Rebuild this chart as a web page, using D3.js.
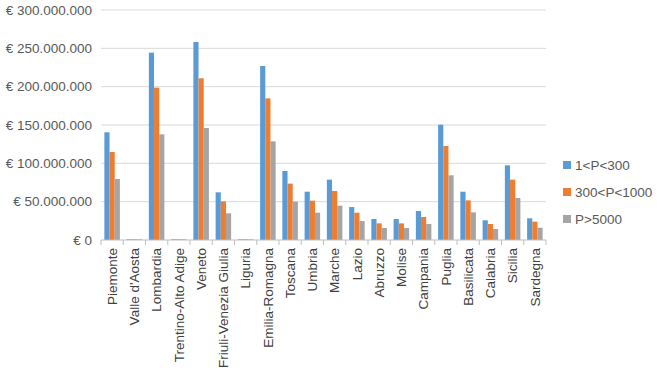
<!DOCTYPE html>
<html>
<head>
<meta charset="utf-8">
<script src="https://cdn.jsdelivr.net/npm/d3@7"></script>
<style>
  body { margin: 0; background: #fff; }
  svg { display: block; font-family: "Liberation Sans", "DejaVu Sans", sans-serif; }
</style>
</head>
<body>
<div id="chart-container"></div>
<script>
'use strict';

// regions along the x axis
const regions = ["Piemonte", "Valle d'Aosta", "Lombardia", "Trentino-Alto Adige", "Veneto",
    "Friuli-Venezia Giulia", "Liguria", "Emilia-Romagna", "Toscana", "Umbria", "Marche",
    "Lazio", "Abruzzo", "Molise", "Campania", "Puglia", "Basilicata", "Calabria", "Sicilia", "Sardegna"];

const seriesNames = ["1<P<300", "300<P<1000", "P>5000"];

// values in millions of euro
const small = [140.5, 1, 244.4, 1, 258.3, 62.2, 1, 227, 90, 63, 78.7, 43, 27.4, 27.4, 37.8, 150.4, 63, 25.7, 97.4, 28.3];
const medium = [114.8, 1, 198.7, 1, 210.9, 50.4, 1, 184.8, 73.5, 51.3, 63.9, 35.6, 21.7, 21.7, 30, 122.6, 51.7, 20.9, 78.7, 23.9];
const large = [79.6, 1, 137.8, 1, 146.1, 34.8, 1, 128.7, 50, 35.6, 44.8, 24.8, 15.7, 15.7, 20.9, 84.4, 36.1, 14.3, 54.8, 16];

const yTicks = [0, 50, 100, 150, 200, 250, 300];

const colors = ["#5B9BD5", "#ED7D31", "#A5A5A5"];
const allSeries = [small, medium, large];

const width = 657, height = 378;
const margin = { left: 101, right: 111, top: 10, bottom: 138 };

const svg = d3.select("#chart-container").append("svg")
    .attr("width", width)
    .attr("height", height);

const x = d3.scaleBand()
    .domain(regions)
    .range([margin.left, width - margin.right])
    .paddingInner(0)
    .paddingOuter(0);

const x1 = d3.scaleBand()
    .domain(d3.range(seriesNames.length))
    .range([0, x.bandwidth()])
    .paddingInner(0)
    .paddingOuter(0.65);

const y = d3.scaleLinear()
    .domain([0, 300])
    .range([height - margin.bottom, margin.top]);

// gridlines
svg.append("g")
    .selectAll("line")
    .data(yTicks.slice(1))
    .join("line")
    .attr("x1", margin.left)
    .attr("x2", width - margin.right)
    .attr("y1", d => y(d))
    .attr("y2", d => y(d))
    .attr("stroke", "#d9d9d9")
    .attr("stroke-width", 1);

// y labels
const fmt = v => v === 0 ? "€ 0" : "€ " + d3.format(",")(v * 1e6).replace(/,/g, ".");
svg.append("g")
    .selectAll("text")
    .data(yTicks)
    .join("text")
    .attr("x", margin.left - 9)
    .attr("y", d => y(d))
    .attr("dy", "0.35em")
    .attr("text-anchor", "end")
    .attr("fill", "#595959")
    .style("font-size", "13.5px")
    .text(fmt);

// bars
const groups = svg.append("g")
    .selectAll("g")
    .data(regions)
    .join("g")
    .attr("transform", d => `translate(${x(d)},0)`);

groups.selectAll("rect")
    .data((d, i) => allSeries.map((s, k) => ({ k, v: s[i] })))
    .join("rect")
    .attr("x", d => x1(d.k))
    .attr("width", x1.bandwidth())
    .attr("y", d => y(d.v))
    .attr("height", d => y(0) - y(d.v))
    .attr("fill", d => colors[d.k]);

// x axis line and ticks
const base = y(0);
svg.append("line")
    .attr("x1", margin.left)
    .attr("x2", width - margin.right)
    .attr("y1", base)
    .attr("y2", base)
    .attr("stroke", "#bfbfbf");

svg.append("g")
    .selectAll("line")
    .data(d3.range(regions.length + 1))
    .join("line")
    .attr("x1", i => i < regions.length ? x(regions[i]) : x.range()[1])
    .attr("x2", i => i < regions.length ? x(regions[i]) : x.range()[1])
    .attr("y1", base)
    .attr("y2", base + 5)
    .attr("stroke", "#bfbfbf");

// x labels, rotated
svg.append("g")
    .selectAll("text")
    .data(regions)
    .join("text")
    .attr("transform", d => `translate(${x(d) + x.bandwidth() / 2},${base + 8}) rotate(-90)`)
    .attr("dy", "0.35em")
    .attr("text-anchor", "end")
    .attr("fill", "#404040")
    .style("font-size", "13.5px")
    .text(d => d);

// legend
const legend = svg.append("g")
    .selectAll("g")
    .data(seriesNames)
    .join("g")
    .attr("transform", (d, i) => `translate(563,${165 + i * 27})`);

legend.append("rect")
    .attr("x", 0)
    .attr("y", -4)
    .attr("width", 8)
    .attr("height", 8)
    .attr("fill", (d, i) => colors[i]);

legend.append("text")
    .attr("x", 12)
    .attr("dy", "0.35em")
    .attr("fill", "#595959")
    .style("font-size", "13.5px")
    .text(d => d);
</script>
</body>
</html>
